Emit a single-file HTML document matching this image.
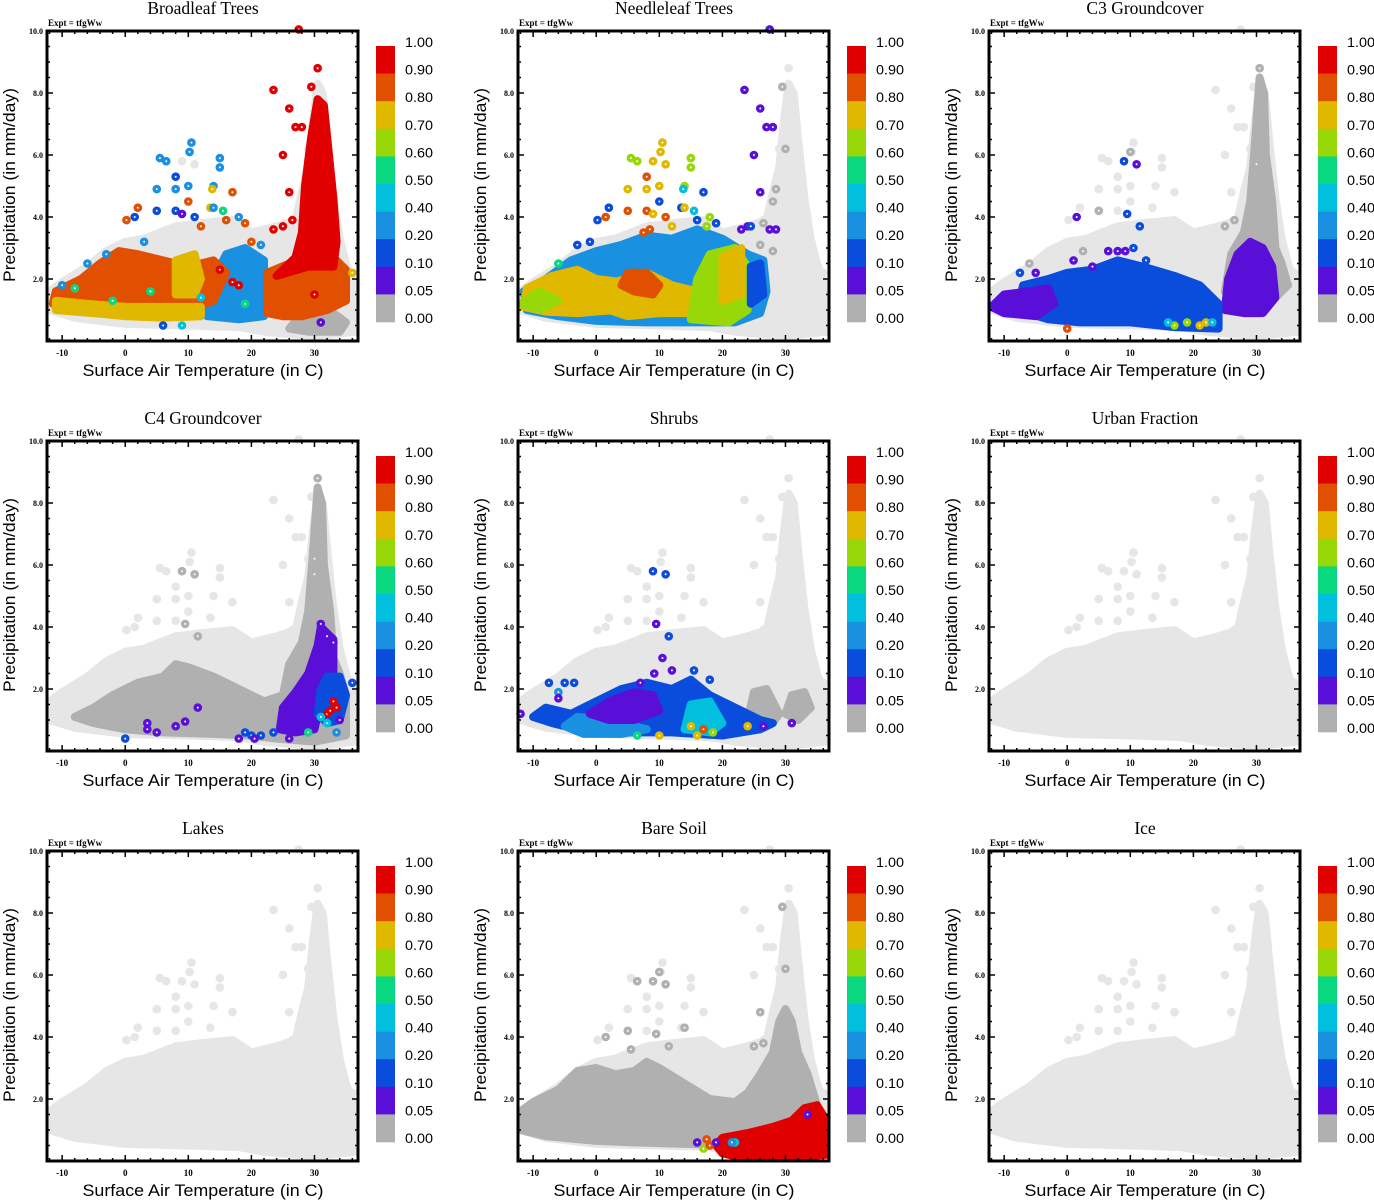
<!DOCTYPE html>
<html><head><meta charset="utf-8"><style>
html,body{margin:0;padding:0;background:#fff;}
svg{display:block;}
</style></head><body>
<svg id="fig" width="1374" height="1200" viewBox="0 0 1374 1200" xmlns="http://www.w3.org/2000/svg"></svg>
<script>
// ---- data ----
const panelTitles = ["Broadleaf Trees","Needleleaf Trees","C3 Groundcover","C4 Groundcover","Shrubs","Urban Fraction","Lakes","Bare Soil","Ice"];
const xTicks = [-10,0,10,20,30];
const yTicks = [2,4,6,8,10];
const yTickLabels = ["2.0","4.0","6.0","8.0","10.0"];
const cbLabels = ["1.00","0.90","0.80","0.70","0.60","0.50","0.40","0.20","0.10","0.05","0.00"];
const classColors = ["#b0b0b0","#5a0fd8","#0a4cdc","#1a90e0","#00c0de","#0ad880","#98d808","#e0b800","#e05000","#e00000"];
const bgCloud = [[-12,1.0],[-12,1.6],[-10,1.9],[-6,2.4],[-3,2.9],[0,3.2],[3,3.3],[8,3.7],[12,3.8],[17,3.9],[20,3.5],[24,3.7],[27,3.9],[28,4.8],[29,5.6],[29.7,7],[30.5,8.3],[31.3,8],[32,6.5],[33,4.6],[34,3.3],[35,2.5],[36.5,1.7],[36.5,0.3],[30,0.15],[22,0.3],[18,0.45],[10,0.5],[0,0.55],[-8,0.75]];
const bgPoints = [[5.5,5.9],[6.5,5.8],[9,5.8],[10.2,6.1],[10.5,6.4],[11,5.7],[15,5.9],[15,5.6],[8,5.3],[8,4.9],[5,4.9],[10,5.0],[14,5.0],[17,4.8],[10,4.5],[2,4.3],[0.2,3.9],[1.5,4.0],[5,4.2],[8,4.2],[13.5,4.3],[23.5,8.1],[26,7.5],[27,6.9],[28,6.9],[25,6.0],[26,4.8],[27.5,10.05],[30.5,8.8],[29.5,8.2],[36,2.2],[30,5.7],[29,6.2],[25,3.7],[26.5,3.9]];

const broadleafRegions = [
 {c:3,p:[[13,0.8],[14,2.0],[16,2.8],[19,3.0],[22,2.6],[22,0.8],[18,0.7]]},
 {c:8,p:[[-11.5,1.2],[-11,1.6],[-7,2.0],[-4,2.5],[-1,2.9],[2,2.8],[6,2.6],[10,2.4],[14,2.6],[16,2.2],[14,1.3],[10,1.0],[5,0.9],[0,0.9],[-6,1.0]]},
 {c:7,p:[[-11,1.0],[-5,0.9],[0,0.8],[6,0.75],[12,0.8],[12,1.1],[6,1.1],[0,1.1],[-6,1.2],[-11,1.3]]},
 {c:7,p:[[8,1.5],[8,2.6],[11,2.8],[12,2.0],[11,1.5]]},
 {c:0,p:[[26,0.4],[28,0.9],[33,0.9],[35,0.6],[34,0.3],[29,0.3]]},
 {c:8,p:[[22.5,0.9],[22.5,2.2],[26,2.5],[30,2.7],[33,2.7],[35,2.3],[35,1.3],[32,1.0],[28,0.8],[25,0.8]]},
 {c:9,p:[[24,2.1],[27,2.7],[28,3.5],[28.5,5],[29.5,6.6],[30.5,7.8],[31.5,7.6],[32.3,6],[33,4.6],[33.5,3.2],[33,2.4],[29,2.4]]}
];
const broadleafPoints = [[5.5,5.9,3],[6.5,5.8,3],[10.2,6.1,3],[10.5,6.4,3],[15,5.9,3],[15,5.6,3],[8,5.3,2],[8,4.9,3],[5,4.9,3],[10,5.0,3],[14,5.0,3],[13.8,4.9,7],[17,4.8,8],[10,4.5,8],[2,4.3,8],[0.2,3.9,8],[1.5,4.0,2],[5,4.2,2],[8,4.2,2],[9,4.1,1],[11,4.0,2],[13.5,4.3,7],[14,4.3,3],[15.5,4.2,5],[16,3.9,8],[12,3.7,8],[18,4.0,3],[19,3.8,8],[23.5,8.1,9],[26,7.5,9],[27,6.9,9],[28,6.9,9],[25,6.0,9],[26,4.8,9],[27.5,10.05,9],[30.5,8.8,9],[29.5,8.2,9],[36,2.2,7],[-6,2.5,3],[-10,1.8,3],[-3,2.8,3],[3,3.2,3],[20,3.2,8],[21.5,3.1,3],[23.5,3.6,9],[25,3.7,9],[26.5,3.9,9],[30,1.5,9],[31,0.6,1],[15,2.3,9],[17,1.9,9],[18,1.8,9],[6,0.5,2],[9,0.5,4],[-8,1.7,5],[-2,1.3,5],[4,1.6,5],[12,1.4,4],[19,1.2,5]];

const needleRegions = [
 {c:3,p:[[-11,1.0],[-6,0.8],[0,0.65],[8,0.6],[16,0.6],[22,0.6],[26,0.9],[27,1.6],[26.5,2.6],[24,2.8],[20,3.3],[16,3.6],[12,3.3],[8,3.4],[4,3.1],[0,2.9],[-4,2.6],[-8,2.0],[-11.5,1.6]]},
 {c:7,p:[[-11.5,1.1],[-11,1.7],[-7,2.1],[-3,2.3],[0,2.0],[4,1.9],[6,1.4],[3,1.0],[-3,0.9],[-8,0.95]]},
 {c:6,p:[[-12,1.2],[-9,1.6],[-6,1.3],[-9,1.0]]},
 {c:7,p:[[2,1.0],[3,1.9],[8,2.2],[12,1.8],[16,1.6],[15,0.9],[10,0.9],[5,0.8]]},
 {c:8,p:[[4,1.8],[5,2.2],[8,2.2],[10,1.8],[9,1.5],[6,1.6]]},
 {c:6,p:[[15,0.7],[16,2.0],[18,2.8],[22,3.0],[24,2.4],[24,1.0],[21,0.6]]},
 {c:7,p:[[20,1.3],[20,2.7],[23,3.0],[23,1.5]]},
 {c:2,p:[[24.5,1.2],[24.5,2.4],[26,2.5],[26.5,1.5]]}
];
const needlePoints = [[27.5,10.05,1],[23.5,8.1,1],[26,7.5,1],[27,6.9,1],[28,6.9,1],[25,6.0,1],[26,4.8,1],[29.5,8.2,0],[30,6.2,0],[28.5,4.9,0],[28,4.5,0],[26.5,3.8,0],[28,2.9,0],[26,3.1,0],[27.5,3.6,1],[28.5,3.6,1],[23,3.6,1],[24,3.7,1],[24.5,3.7,2],[5.5,5.9,6],[6.5,5.8,6],[9,5.8,7],[10.2,6.1,7],[10.5,6.4,7],[11,5.7,7],[15,5.9,6],[15,5.6,6],[8,5.3,8],[8,4.9,7],[5,4.9,7],[10,5.0,7],[14,5.0,6],[13.8,4.9,4],[17,4.8,2],[10,4.5,2],[2,4.3,2],[0.2,3.9,2],[1.5,4.0,8],[5,4.2,8],[8,4.2,8],[9,4.1,7],[11,4.0,8],[13.5,4.3,2],[14,4.3,7],[15.5,4.2,4],[16,3.9,2],[19,3.8,2],[18,4.0,6],[17.5,3.7,6],[12,3.7,7],[7.5,3.5,8],[8.5,3.6,8],[-6,2.5,5],[-3,3.1,2],[-1,3.2,2]];

const c3Regions = [
 {c:0,p:[[25,1.6],[26,2.8],[28,3.5],[29,4.5],[29.8,6.5],[30.5,8.5],[31.2,8],[31.5,6],[32.5,4.5],[33,3],[34,2.5],[35,1.8],[33,1.4],[30,2.8],[27,2.6]]},
 {c:1,p:[[25,1.0],[25.5,2.0],[27,2.8],[29,3.2],[31,3.0],[32.5,2.4],[33,1.4],[31,0.9],[28,0.9]]},
 {c:2,p:[[-8,1.0],[-7,1.8],[-3,2.0],[0,2.2],[4,2.3],[8,2.6],[12,2.4],[17,2.1],[21,1.8],[24,1.2],[24,0.4],[17,0.45],[10,0.6],[2,0.6],[-3,0.7]]},
 {c:1,p:[[-12,1.1],[-10,1.5],[-6,1.6],[-3,1.7],[-2,1.2],[-5,0.8],[-10,0.9]]}
];
const c3Points = [[9,5.8,2],[11,5.7,1],[1.5,4.0,1],[9.5,4.1,2],[11.5,3.7,2],[10.5,3.0,2],[6.5,2.9,1],[8,2.9,1],[9.2,2.9,1],[4,2.4,1],[1,2.6,1],[-7.5,2.2,2],[-5,2.2,1],[12.5,2.6,2],[0,0.4,8],[17,0.5,6],[19,0.6,6],[21,0.5,7],[22,0.6,7],[16,0.6,4],[23,0.6,4],[10,6.1,0],[5,4.2,0],[25,3.7,0],[26.5,3.9,0],[30,5.7,0],[30.5,8.8,0],[2.5,2.9,0],[-6,2.5,0]];

const c4Regions = [
 {c:0,p:[[-8,1.1],[-5,1.4],[-2,1.8],[2,2.2],[6,2.4],[8,2.8],[10,2.7],[14,2.4],[18,2.0],[22,1.6],[25,1.8],[26,2.8],[28,3.5],[29,4.5],[29.8,6.5],[30.5,8.5],[31.2,8],[31.5,6],[32.5,4.5],[33,3],[34,2.5],[35,1.8],[35,0.5],[30,0.3],[24,0.4],[20,0.5],[14,0.55],[6,0.6],[0,0.7],[-5,0.9]]},
 {c:1,p:[[24.5,0.7],[25,1.4],[27,1.9],[29,2.5],[30.5,3.4],[31,4.0],[33,3.6],[33,2.5],[31,1.6],[30,0.7],[27,0.6]]},
 {c:2,p:[[30.5,1.2],[31,2.0],[32,2.4],[34,2.4],[35,1.8],[34,1.0],[32,0.9]]}
];
const c4Points = [[31,4.1,1],[32,3.7,1],[33,3.5,1],[36,2.2,2],[33,1.6,9],[33.5,1.4,9],[32,1.2,9],[32.5,1.3,9],[31,1.1,4],[32,0.9,4],[33.5,0.6,3],[29,0.6,5],[26,0.4,1],[0,0.4,2],[3.5,0.7,1],[3.5,0.9,1],[5,0.6,1],[8,0.8,1],[9.5,0.95,1],[11.5,1.4,1],[18,0.4,1],[19,0.6,2],[20,0.5,2],[21.5,0.5,2],[23.5,0.6,2],[20.5,0.4,1],[34,1.0,1],[9,5.8,0],[11,5.7,0],[9.5,4.1,0],[11.5,3.7,0],[30.5,8.8,0],[30,6.2,0],[30,5.7,0]];

const shrubRegions = [
 {c:0,p:[[24,1.0],[25,1.9],[27,2.0],[29,1.2],[28,0.9]]},
 {c:0,p:[[30,1.2],[31,1.8],[33,1.9],[34,1.4],[32,1.0]]},
 {c:2,p:[[-10,1.1],[-8,1.4],[-4,1.2],[0,1.6],[4,2.0],[8,2.2],[12,2.0],[15,2.3],[18,1.8],[22,1.4],[26,1.0],[28,0.9],[26,0.7],[20,0.5],[12,0.6],[4,0.6],[-3,0.7],[-7,0.9]]},
 {c:3,p:[[-5,0.8],[-3,1.1],[2,1.0],[8,0.7],[4,0.55],[-2,0.55]]},
 {c:4,p:[[14,0.7],[15,1.5],[18,1.6],[20,0.9],[18,0.6]]},
 {c:1,p:[[-1,1.2],[2,1.6],[6,1.9],[9,1.8],[10,1.3],[6,1.0],[2,1.0]]}
];
const shrubPoints = [[9,5.8,2],[11,5.7,2],[9.5,4.1,1],[11.5,3.7,2],[10.5,3.0,1],[12,2.6,1],[15.5,2.6,2],[18,2.3,2],[9.2,2.5,1],[7,2.2,1],[-7.5,2.2,2],[-5,2.2,2],[-3.5,2.2,2],[-6,1.9,3],[-6,1.7,1],[-12,1.2,1],[17,0.7,8],[15,0.8,7],[16,0.5,7],[10,0.5,7],[6.5,0.5,5],[18.5,0.6,6],[24,0.8,7],[31,0.9,1],[26.5,0.8,1]];

const bareRegions = [
 {c:0,p:[[-12,1.0],[-12,1.6],[-10,1.9],[-6,2.3],[-3,2.9],[0,3.0],[3,2.8],[6,2.9],[8,3.2],[10,3.0],[14,2.5],[18,2.0],[22,1.9],[24,2.2],[26,2.8],[28,3.5],[29,4.5],[30,4.9],[31,4.5],[32,3.5],[33.5,2.8],[35,1.8],[36,1.0],[30,0.6],[22,0.5],[14,0.55],[6,0.6],[0,0.65],[-8,0.8]]},
 {c:9,p:[[19,0.5],[20,0.75],[24,0.9],[28,1.1],[31,1.3],[33,1.7],[35,1.8],[36.5,1.3],[36.5,0.2],[30,0.1],[23,0.1],[20,0.25]]}
];
const barePoints = [[16,0.6,1],[17,0.4,6],[17.5,0.7,8],[18,0.5,8],[19,0.6,1],[22,0.6,4],[21.5,0.6,3],[33.5,1.5,1],[29.5,8.2,0],[30,6.2,0],[9,5.8,0],[10,6.1,0],[11,5.7,0],[6.5,5.8,0],[5,4.2,0],[9.5,4.1,0],[14,4.3,0],[1.5,4.0,0],[26,4.8,0],[25,3.7,0],[26.5,3.8,0],[11.5,3.7,0],[5.5,3.6,0]];

const panelRegions = [broadleafRegions, needleRegions, c3Regions, c4Regions, shrubRegions, [], [], bareRegions, []];
const panelPoints = [broadleafPoints, needlePoints, c3Points, c4Points, shrubPoints, [], [], barePoints, []];

// ---- geometry ----
const NS = "http://www.w3.org/2000/svg";
const PX0 = 47, PX1 = 358, PY0 = 31, PY1 = 341;
const XMIN = -12.4, XMAX = 36.9, YMIN = 0, YMAX = 10;
function sx(t){ return PX0 + (t - XMIN) / (XMAX - XMIN) * (PX1 - PX0); }
function sy(p){ return PY1 - (p - YMIN) / (YMAX - YMIN) * (PY1 - PY0); }
function mk(tag, attrs, parent){
  const e = document.createElementNS(NS, tag);
  for (const k in attrs) e.setAttribute(k, attrs[k]);
  if (parent) parent.appendChild(e);
  return e;
}
function txt(parent, x, y, s, attrs){
  const e = mk("text", Object.assign({x:x, y:y}, attrs), parent);
  e.textContent = s;
  return e;
}
function polyStr(pts){ return pts.map(q => sx(q[0]).toFixed(1) + "," + sy(q[1]).toFixed(1)).join(" "); }

const svg = document.getElementById("fig");
const SERIF = "'Liberation Serif', serif", SANS = "'Liberation Sans', sans-serif";

for (let i = 0; i < 9; i++){
  const col = i % 3, row = Math.floor(i / 3);
  const g = mk("g", {transform: "translate(" + (col * 471) + "," + (row * 410) + ")"}, svg);
  
  

  const t = txt(g, 203, 14, panelTitles[i], {"text-anchor":"middle","font-family":SERIF,"font-size":"17.5"});
  
  
  const ex = txt(g, 48, 26, "Expt = tfgWw", {"font-family":SERIF,"font-size":"9","font-weight":"bold"});
  
  

  // background cloud
  const bg = mk("polygon", {points: polyStr(bgCloud), fill:"#e6e6e6", stroke:"#e6e6e6", "stroke-width":"8", "stroke-linejoin":"round"}, g);
  
  
  bgPoints.forEach(q => {
    const c = mk("circle", {cx: sx(q[0]), cy: sy(q[1]), r: 4.3, fill:"#e6e6e6"}, g);
    
    
  });

  panelRegions[i].forEach(rg => {
    const col2 = classColors[rg.c];
    const pg = mk("polygon", {points: polyStr(rg.p), fill: col2, stroke: col2, "stroke-width":"8", "stroke-linejoin":"round"}, g);
    
    
  });
  panelPoints[i].forEach(q => {
    const c = mk("circle", {cx: sx(q[0]), cy: sy(q[1]), r: 4.3, fill: classColors[q[2]]}, g);
    
    
    mk("circle", {cx: sx(q[0]), cy: sy(q[1]), r: 1, fill: "#fff"}, g);
  });

  // frame
  const fr = mk("rect", {x: PX0, y: PY0, width: PX1 - PX0, height: PY1 - PY0, fill:"none", stroke:"#000", "stroke-width":"3"}, g);
  
  

  // x ticks
  for (let v = -12; v <= 36; v += 2){
    const major = (v % 10 === 0);
    const L = major ? 6 : 3, X = sx(v);
    mk("line", {x1:X, y1:PY1, x2:X, y2:PY1 - L, stroke:"#000", "stroke-width":"1.5"}, g);
    mk("line", {x1:X, y1:PY0, x2:X, y2:PY0 + L, stroke:"#000", "stroke-width":"1.5"}, g);
  }
  xTicks.forEach(v => {
    const e = txt(g, sx(v), 356, String(v), {"text-anchor":"middle","font-family":SERIF,"font-size":"9","font-weight":"bold"});
    
    
  });
  for (let v = 0.5; v < 10; v += 0.5){
    const major = (Math.abs(v - Math.round(v / 2) * 2) < 1e-6);
    const L = major ? 6 : 3, Y = sy(v);
    mk("line", {x1:PX0, y1:Y, x2:PX0 + L, y2:Y, stroke:"#000", "stroke-width":"1.5"}, g);
    mk("line", {x1:PX1, y1:Y, x2:PX1 - L, y2:Y, stroke:"#000", "stroke-width":"1.5"}, g);
  }
  yTicks.forEach((v, k) => {
    const e = txt(g, 43, sy(v) + 3, yTickLabels[k], {"text-anchor":"end","font-family":SERIF,"font-size":"8","font-weight":"bold"});
    
    
  });

  const xt = txt(g, 203, 376, "Surface Air Temperature (in C)", {"text-anchor":"middle","font-family":SANS,"font-size":"17","textLength":"241","lengthAdjust":"spacingAndGlyphs"});
  
  
  const yt = txt(g, 0, 0, "Precipitation (in mm/day)", {"text-anchor":"middle","font-family":SANS,"font-size":"17","textLength":"194","lengthAdjust":"spacingAndGlyphs","transform":"translate(15,185) rotate(-90)"});
  
  

  // colorbar
  const cb = mk("g", {}, g);
  
  
  const top = 46, bh = 27.6;
  for (let k = 0; k < 10; k++){
    const r = mk("rect", {x:376, y: top + k * bh, width:19, height: bh + 0.3, fill: classColors[9 - k]}, cb);
    
    
  }
  cbLabels.forEach((s, k) => {
    const e = txt(cb, 405, top + k * bh + 1, s, {"font-family":SANS,"font-size":"14","textLength":"28","lengthAdjust":"spacingAndGlyphs"});
    
    
  });
}
</script>
</body></html>
